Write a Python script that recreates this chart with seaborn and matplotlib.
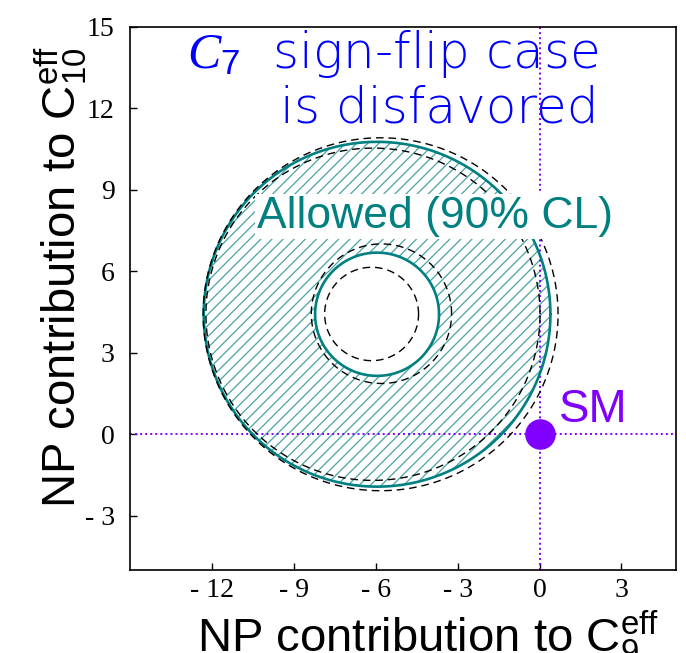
import numpy as np
import pandas as pd
import matplotlib
matplotlib.use("Agg")
import matplotlib.pyplot as plt
from matplotlib.patches import Wedge
from matplotlib.ticker import FixedLocator, FixedFormatter
import seaborn as sns

# Allowed region (90% CL) in the (C9, C10) new-physics plane: an annulus
allowed_cx, allowed_cy = -5.95, 4.42
allowed_r_outer = 6.35
allowed_r_inner = 2.27

# Companion contours (dashed): outer/inner boundaries of the variant fits
alt_cx = [-5.82, -6.10, -5.79, -6.15]
alt_cy = [4.42, 4.42, 4.44, 4.43]
alt_r = [6.50, 6.12, 2.57, 1.72]

# Standard Model point
sm_x, sm_y = 0.0, 0.0

x_ticks = [-12, -9, -6, -3, 0, 3]
x_tick_labels = ["- 12", "- 9", "- 6", "- 3", "0", "3"]
y_ticks = [-3, 0, 3, 6, 9, 12, 15]
y_tick_labels = ["- 3", "0", "3", "6", "9", "12", "15"]

TEAL = "#008080"
PURPLE = "#7f00ff"
BLUE = "#0000ff"

sns.set_style("ticks")
plt.rcParams.update({
    "font.family": ["Liberation Sans", "DejaVu Sans"],
    "mathtext.fontset": "custom",
    "mathtext.rm": "Liberation Sans",
    "mathtext.it": "Liberation Serif:italic",
    "mathtext.bf": "Liberation Sans:bold",
    "hatch.linewidth": 0.9,
    "text.color": "black",
    "axes.labelcolor": "black",
    "xtick.color": "black",
    "ytick.color": "black",
})


def ring(cx, cy, r, n=361):
    t = np.linspace(0, 2 * np.pi, n)
    return cx + r * np.cos(t), cy + r * np.sin(t)


fig = plt.figure(figsize=(6.86, 6.53), dpi=100)
ax = fig.add_axes([130 / 686, 83 / 653, 546 / 686, 543 / 653])

# hatched allowed annulus
ann = Wedge((allowed_cx, allowed_cy), allowed_r_outer, 0, 360,
            width=allowed_r_outer - allowed_r_inner,
            facecolor="none", edgecolor="#4aa3a3", hatch="///", lw=0, zorder=1)
ax.add_patch(ann)

# solid boundaries of the allowed region
rows = []
for k, r in enumerate([allowed_r_outer, allowed_r_inner]):
    xs, ys = ring(allowed_cx, allowed_cy, r)
    rows.append(pd.DataFrame({"x": xs, "y": ys, "cid": k}))
solid = pd.concat(rows, ignore_index=True)
sns.lineplot(data=solid, x="x", y="y", units="cid", estimator=None, sort=False,
             color=TEAL, lw=1.9, ax=ax, zorder=3)

# dashed companion contours
rows = []
for k, (cx, cy, r) in enumerate(zip(alt_cx, alt_cy, alt_r)):
    xs, ys = ring(cx, cy, r)
    rows.append(pd.DataFrame({"x": xs, "y": ys, "cid": k}))
dashed = pd.concat(rows, ignore_index=True)
sns.lineplot(data=dashed, x="x", y="y", units="cid", estimator=None, sort=False,
             color="black", lw=1.0, dashes=False, ax=ax, zorder=4,
             linestyle=(0, (5.5, 3.5)))

# SM reference lines and point
ax.axvline(sm_x, color=PURPLE, lw=1.4, linestyle=(0, (1, 1.6)), zorder=2)
ax.axhline(sm_y, color=PURPLE, lw=1.4, linestyle=(0, (1, 1.6)), zorder=2)
sns.scatterplot(x=[sm_x], y=[sm_y], color=PURPLE, s=22 ** 2, linewidth=0,
                ax=ax, zorder=6)
ax.text(0.70, 0.44, "SM", color=PURPLE, fontsize=33, ha="left", va="baseline",
        zorder=6)

# annotations
title_kw = dict(color=BLUE, fontsize=36, family=["DejaVu Sans"],
                fontweight="light", ha="right", va="baseline", zorder=1)
ax.text(2.16, 13.48, r"$\mathit{C}_7$  sign-flip case", **title_kw)
ax.text(2.16, 11.47, "is disfavored", **title_kw)
ax.text(-10.33, 7.59, "Allowed (90% CL)", color=TEAL, fontsize=32,
        ha="left", va="baseline", zorder=10,
        bbox=dict(boxstyle="square,pad=0.05", fc="white", ec="none"))

ax.set_xlim(-15, 5)
ax.set_ylim(-5, 15)
ax.xaxis.set_major_locator(FixedLocator(x_ticks))
ax.xaxis.set_major_formatter(FixedFormatter(x_tick_labels))
ax.yaxis.set_major_locator(FixedLocator(y_ticks))
ax.yaxis.set_major_formatter(FixedFormatter(y_tick_labels))
ax.tick_params(direction="in", length=5, width=1.0, colors="black")
ax.tick_params(axis="x", pad=6)
ax.tick_params(axis="y", pad=11)
for lab in ax.get_xticklabels() + ax.get_yticklabels():
    lab.set_family(["Liberation Serif"])
    lab.set_fontsize(20)
for sp in ax.spines.values():
    sp.set_visible(True)
    sp.set_linewidth(1.2)
    sp.set_color("black")

ax.set_xlabel(r"NP contribution to $\mathrm{C}_9^{\mathrm{eff}}$", fontsize=34,
              color="black")
ax.set_ylabel(r"NP contribution to $\mathrm{C}_{10}^{\mathrm{eff}}$", fontsize=34,
              color="black")
ax.xaxis.label.set_va("baseline")
ax.yaxis.label.set_va("baseline")
ax.xaxis.set_label_coords(0.545, -0.151)
ax.yaxis.set_label_coords(-0.099, 0.54)

fig.savefig("out.png", dpi=100)
